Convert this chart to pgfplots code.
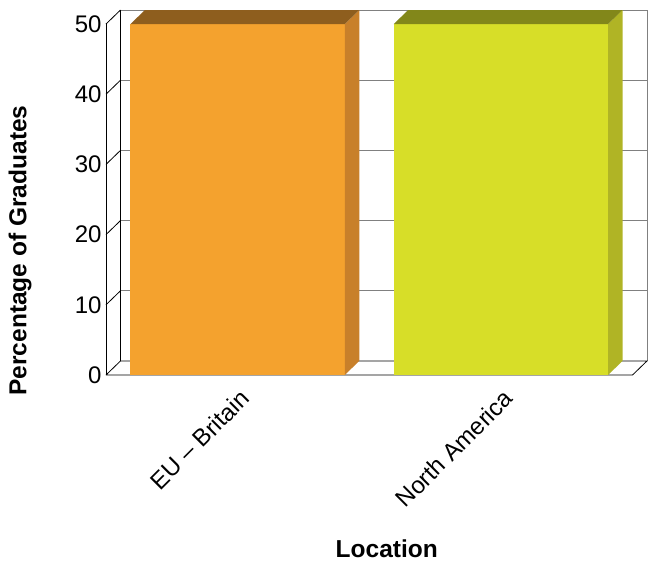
\documentclass[border=0pt]{standalone}
\usepackage{fontspec}
\setmainfont{Liberation Sans}
\usepackage{pgfplots}
\pgfplotsset{compat=1.18}
\definecolor{orF}{HTML}{F4A22E}
\definecolor{orS}{HTML}{C8802A}
\definecolor{orT}{HTML}{8E5E1E}
\definecolor{grF}{HTML}{D7DE28}
\definecolor{grS}{HTML}{B0B425}
\definecolor{grT}{HTML}{82871A}
\definecolor{gridc}{HTML}{808080}
\begin{document}
\begin{tikzpicture}
\begin{axis}[
  scale only axis, width=541bp, height=365bp,
  xmin=-0.5, xmax=1.555, ymin=0, ymax=52,
  clip=false,
  axis line style={draw=none},
  major tick length=0pt,
  tick style={draw=none},
  xtick={0,1}, xticklabels={EU – Britain, North America},
  ytick={0,10,20,30,40,50},
  /pgf/number format/assume math mode=true,
  ticklabel style={font=\fontsize{24bp}{28bp}\selectfont},
  yticklabel style={anchor=east, xshift=-1bp},
  xticklabel style={rotate=45, anchor=east, xshift=-5bp, yshift=-19bp},
  xlabel={Location}, ylabel={Percentage of Graduates},
  label style={font=\bfseries\fontsize{24.5bp}{28bp}\selectfont},
  xlabel style={at={(axis description cs:0.519,-0.501)}, anchor=base},
  ylabel style={at={(axis description cs:-0.1587,0.341)}, anchor=center, rotate=0},
]
% back wall grid
\addplot[gridc, line width=0.8bp, forget plot] coordinates {(-0.445,12) (1.555,12)};
\addplot[gridc, line width=0.8bp, forget plot] coordinates {(-0.445,22) (1.555,22)};
\addplot[gridc, line width=0.8bp, forget plot] coordinates {(-0.445,32) (1.555,32)};
\addplot[gridc, line width=0.8bp, forget plot] coordinates {(-0.445,42) (1.555,42)};
\addplot[gridc, line width=0.8bp, forget plot] coordinates {(-0.445,52) (1.555,52)};
\addplot[gridc, line width=0.8bp, forget plot] coordinates {(1.555,2) (1.555,52)};
% left wall
\addplot[black, line width=0.8bp, forget plot] coordinates {(-0.5,0) (-0.5,50)};
\addplot[black, line width=0.8bp, forget plot] coordinates {(-0.445,2) (-0.445,52)};
\addplot[black, line width=0.8bp, forget plot] coordinates {(-0.5,10) (-0.445,12)};
\addplot[black, line width=0.8bp, forget plot] coordinates {(-0.5,20) (-0.445,22)};
\addplot[black, line width=0.8bp, forget plot] coordinates {(-0.5,30) (-0.445,32)};
\addplot[black, line width=0.8bp, forget plot] coordinates {(-0.5,40) (-0.445,42)};
\addplot[black, line width=0.8bp, forget plot] coordinates {(-0.5,50) (-0.445,52)};
% floor
\addplot[black, line width=0.8bp, forget plot] coordinates {(-0.5,0) (1.5,0) (1.555,2) (-0.445,2) (-0.5,0)};
% bars: EU - Britain = 50
\addplot[fill=orF, draw=none, forget plot] coordinates {(-0.407,0) (0.407,0) (0.407,50) (-0.407,50)} --cycle;
\addplot[fill=orS, draw=none, forget plot] coordinates {(0.407,0) (0.462,2) (0.462,52) (0.407,50)} --cycle;
\addplot[fill=orT, draw=none, forget plot] coordinates {(-0.407,50) (-0.352,52) (0.462,52) (0.407,50)} --cycle;
% North America = 50
\addplot[fill=grF, draw=none, forget plot] coordinates {(0.593,0) (1.407,0) (1.407,50) (0.593,50)} --cycle;
\addplot[fill=grS, draw=none, forget plot] coordinates {(1.407,0) (1.462,2) (1.462,52) (1.407,50)} --cycle;
\addplot[fill=grT, draw=none, forget plot] coordinates {(0.593,50) (0.648,52) (1.462,52) (1.407,50)} --cycle;
\coordinate (O) at (axis cs:-0.5,0);
\end{axis}
\pgfresetboundingbox
\path (O) ++(-106bp,-190bp) rectangle ++(657bp,565bp);
\end{tikzpicture}
\end{document}
